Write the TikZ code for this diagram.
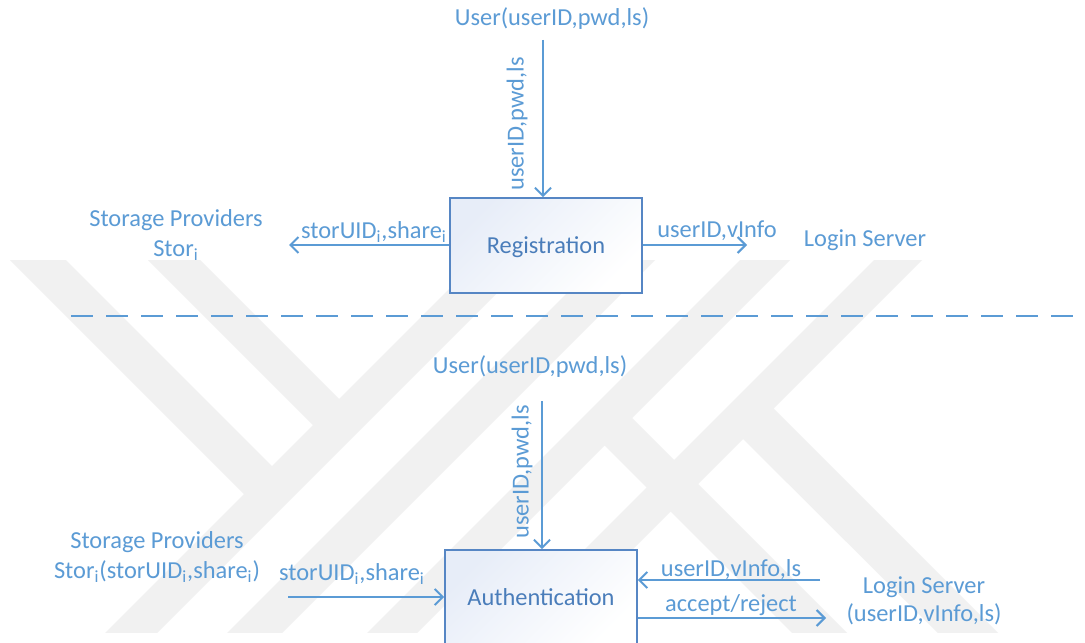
\documentclass[tikz,border=0pt]{standalone}
\usepackage{fontspec}
\setmainfont{Carlito}
\usetikzlibrary{arrows.meta}
\definecolor{flow}{HTML}{5B9BD5}
\definecolor{boxline}{HTML}{5686C4}
\definecolor{boxtext}{HTML}{4A7DBA}
\definecolor{boxtint}{HTML}{E7EDF8}
\definecolor{wmark}{HTML}{F1F1F1}
\begin{document}
\begin{tikzpicture}[x=0.5pt,y=-0.5pt,
  lbl/.style={text=flow, font=\fontsize{12.2}{15}\selectfont, inner sep=0pt},
  procbox/.style={draw=boxline, line width=0.9pt, minimum width=96pt,
    minimum height=47.5pt, inner sep=0pt, text depth=0pt, top color=boxtint,
    bottom color=white, shading angle=45, text=boxtext,
    font=\fontsize{12.2}{15}\selectfont},
  flowarrow/.style={draw=flow, line width=1pt,
    -{Straight Barb[length=4pt,width=8pt]}},
  separator/.style={draw=flow, line width=1.4pt,
    dash pattern=on 11pt off 6.5pt}
]
% page
\useasboundingbox (0,0) rectangle (1085,642);
\fill[white] (0,0) rectangle (1085,642);

% faint background emblem
\begin{scope}
  \clip (0,260) rectangle (1085,632);
  \fill[wmark] (10,260) -- (66,260) -- (285,479) -- (257,507) -- cycle;
  \fill[wmark] (148,260) -- (200,260) -- (352,412) -- (326,438) -- cycle;
  \fill[wmark] (478,260) -- (530,260) -- (130,660) -- (78,660) -- cycle;
  \fill[wmark] (600,260) -- (655,260) -- (255,660) -- (200,660) -- cycle;
  \fill[wmark] (740,260) -- (790,260) -- (390,660) -- (340,660) -- cycle;
  \fill[wmark] (874,260) -- (922,260) -- (522,660) -- (474,660) -- cycle;
  \fill[wmark] (619,405) -- (874,660) -- (819,660) -- (592,433) -- cycle;
  \fill[wmark] (761,396) -- (1025,660) -- (965,660) -- (731,427) -- cycle;
\end{scope}

% ---------- registration ----------
\node[lbl] (userA) at (552,19) {User(userID,pwd,ls)};
\coordinate (userAarr) at (543,40);
\node[procbox] (reg) at (546,245.5) {Registration};
\draw[flowarrow] (userAarr) -- (userAarr |- reg.north);
\node[lbl, rotate=90] (regin) at (517,124) {userID,pwd,ls};

\coordinate (storAend) at (289,245);
\draw[flowarrow] (storAend -| reg.west) -- (storAend);
\node[lbl] (storAlbl) at (374,232) {storUID\textsubscript{i},share\textsubscript{i}};
\node[lbl, align=center] (storA) at (176,235) {Storage Providers\\Stor\textsubscript{i}};

\coordinate (loginAend) at (747,245);
\draw[flowarrow] (loginAend -| reg.east) -- (loginAend);
\node[lbl] (loginAlbl) at (717,231) {userID,vInfo};
\node[lbl] (loginA) at (865,240) {Login Server};

% ---------- separator ----------
\coordinate (sepL) at (71,316);
\coordinate (sepR) at (1085,316);
\draw[separator] (sepL) -- (sepR);

% ---------- authentication ----------
\node[lbl] (userB) at (530,367) {User(userID,pwd,ls)};
\coordinate (userBarr) at (542,401);
\node[procbox] (auth) at (541,597.5) {Authentication};
\draw[flowarrow] (userBarr) -- (userBarr |- auth.north);
\node[lbl, rotate=90] (authin) at (522,472) {userID,pwd,ls};

\coordinate (storBstart) at (288,597);
\draw[flowarrow] (storBstart) -- (storBstart -| auth.west);
\node[lbl] (storBlbl) at (352,574) {storUID\textsubscript{i},share\textsubscript{i}};
\node[lbl, align=center] (storB) at (157,557)
  {Storage Providers\\Stor\textsubscript{i}(storUID\textsubscript{i},share\textsubscript{i})};

\coordinate (loginBin) at (820,580);
\draw[flowarrow] (loginBin) -- (loginBin -| auth.east);
\node[lbl] (loginBinlbl) at (731,570) {userID,vInfo,ls};
\coordinate (loginBout) at (826,618);
\draw[flowarrow] (loginBout -| auth.east) -- (loginBout);
\node[lbl] (loginBoutlbl) at (731,605) {accept/reject};
\node[lbl, align=center, font=\fontsize{12.2}{14}\selectfont] (loginB) at (924,601)
  {Login Server\\(userID,vInfo,ls)};
\end{tikzpicture}
\end{document}
